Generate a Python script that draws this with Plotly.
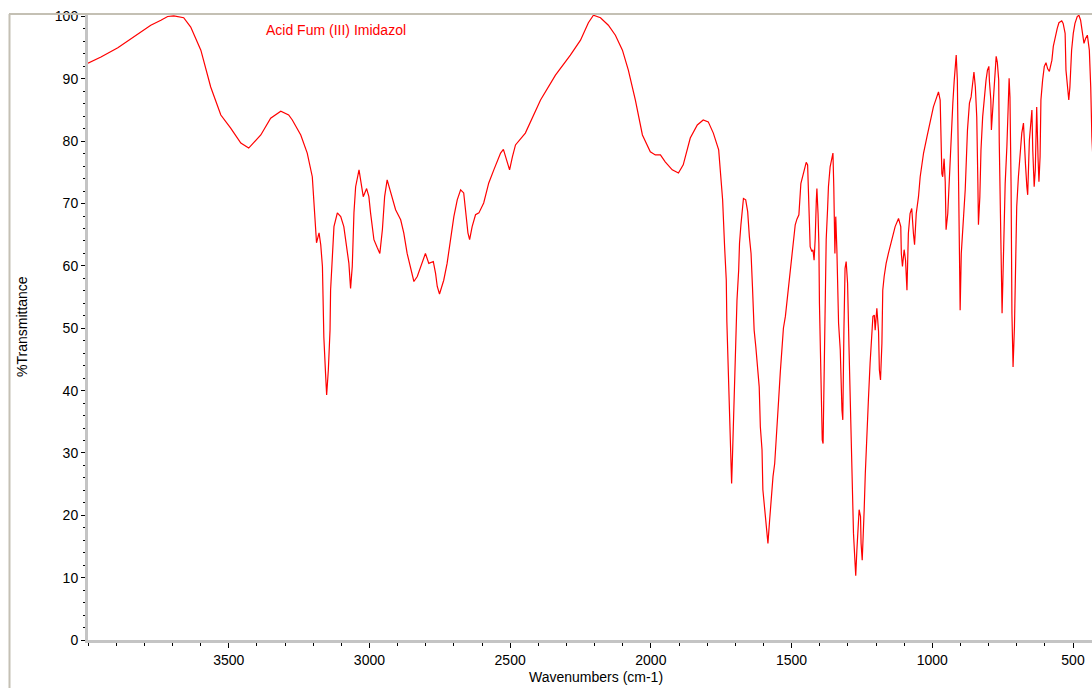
import plotly.graph_objects as go

# Infrared spectrum: wavenumber (cm-1) vs %Transmittance
wavenumber = [
    4000, 3954, 3894, 3837, 3777, 3741, 3717, 3695, 3670, 3660, 3635, 3599, 3564, 3528,
    3493, 3457, 3429, 3386, 3351, 3315, 3287, 3274, 3244, 3221, 3203, 3197, 3191, 3188,
    3179, 3173, 3167, 3162, 3156, 3152, 3146, 3140, 3138, 3132, 3126, 3114, 3102, 3091,
    3079, 3073, 3067, 3061, 3055, 3049, 3037, 3031, 3022, 3010, 3002, 2996, 2984, 2972,
    2963, 2954, 2946, 2937, 2925, 2907, 2889, 2878, 2866, 2848, 2842, 2830, 2812, 2801,
    2789, 2773, 2765, 2759, 2751, 2736, 2724, 2712, 2700, 2688, 2676, 2665, 2656, 2650,
    2644, 2635, 2623, 2611, 2594, 2576, 2558, 2534, 2524, 2513, 2502, 2492, 2481, 2446,
    2392, 2339, 2286, 2250, 2222, 2204, 2179, 2151, 2126, 2101, 2080, 2055, 2030, 2002,
    1984, 1966, 1949, 1924, 1902, 1885, 1860, 1835, 1814, 1796, 1778, 1759, 1753, 1745,
    1738, 1732, 1730, 1724, 1720, 1715, 1713, 1710, 1706, 1703, 1698, 1694, 1688, 1685,
    1680, 1676, 1671, 1663, 1656, 1650, 1644, 1639, 1633, 1627, 1621, 1615, 1611, 1605,
    1602, 1597, 1591, 1588, 1584, 1578, 1572, 1566, 1560, 1554, 1546, 1540, 1534, 1529,
    1522, 1516, 1511, 1505, 1499, 1493, 1487, 1481, 1474, 1467, 1460, 1454, 1448, 1443,
    1438, 1434, 1428, 1424, 1420, 1416, 1412, 1410, 1406, 1403, 1401, 1396, 1391, 1388,
    1384, 1380, 1377, 1372, 1369, 1363, 1357, 1353, 1350, 1346, 1343, 1339, 1333, 1327,
    1321, 1318, 1314, 1310, 1306, 1301, 1296, 1292, 1287, 1284, 1280, 1275, 1272, 1268,
    1264, 1260, 1255, 1253, 1249, 1246, 1242, 1238, 1232, 1227, 1221, 1215, 1211, 1206,
    1203, 1197, 1191, 1188, 1184, 1179, 1176, 1171, 1164, 1156, 1144, 1132, 1120, 1112,
    1110, 1106, 1100, 1095, 1090, 1085, 1079, 1073, 1067, 1063, 1057, 1049, 1043, 1031,
    1019, 1008, 996, 984, 978, 972, 969, 966, 963, 958, 954, 951, 945, 940, 934, 927,
    922, 915, 911, 907, 904, 901, 897, 892, 883, 875, 868, 862, 856, 852, 847, 842,
    838, 836, 831, 827, 821, 815, 809, 804, 799, 797, 792, 790, 785, 780, 773, 769,
    764, 762, 757, 752, 748, 741, 735, 731, 727, 724, 720, 717, 713, 708, 705, 700,
    694, 688, 682, 676, 673, 669, 664, 661, 655, 650, 646, 643, 638, 634, 629, 624,
    621, 617, 614, 608, 602, 596, 590, 584, 578, 575, 570, 563, 556, 550, 540, 535,
    528, 525, 520, 515, 511, 505, 499, 493, 485, 479, 473, 467, 461, 455, 449, 442,
    437, 433, 428,
]

transmittance = [
    92.5, 93.5, 95.0, 96.7, 98.6, 99.4, 100.0, 100.1, 99.9, 99.8, 98.3, 94.6, 88.7, 84.2,
    82.1, 79.7, 78.9, 81.0, 83.7, 84.8, 84.2, 83.4, 81.0, 78.1, 74.3, 70.1, 66.9, 63.7,
    65.3, 63.4, 59.9, 48.6, 42.8, 39.3, 43.3, 49.7, 56.1, 62.0, 66.3, 68.5, 67.9, 66.3,
    62.0, 60.4, 56.4, 59.9, 68.5, 72.7, 75.4, 73.8, 71.1, 72.4, 71.1, 68.5, 64.2, 62.9,
    62.0, 65.8, 71.1, 73.8, 71.9, 69.0, 67.4, 65.3, 62.0, 58.3, 57.5, 58.3, 60.7, 62.0,
    60.4, 60.7, 58.8, 56.7, 55.5, 57.7, 60.4, 64.2, 67.9, 70.6, 72.2, 71.7, 67.9, 65.3,
    64.2, 66.3, 68.2, 68.5, 70.1, 73.3, 75.4, 78.1, 78.7, 77.0, 75.4, 77.5, 79.4, 81.3,
    86.6, 90.6, 93.8, 96.2, 99.0, 100.2, 99.8, 98.6, 97.0, 94.6, 91.4, 86.6, 81.0, 78.3,
    77.8, 77.8, 76.7, 75.4, 74.9, 76.2, 80.5, 82.6, 83.4, 83.1, 81.3, 78.6, 74.9, 70.6,
    63.1, 57.7, 51.1, 41.2, 32.6, 26.7, 25.1, 29.4, 36.4, 43.3, 49.7, 54.5, 59.3, 63.6,
    66.6, 68.7, 70.8, 70.6, 68.7, 64.7, 62.0, 56.7, 49.7, 47.0, 43.8, 40.6, 34.2, 30.5,
    24.1, 21.4, 19.2, 16.6, 15.5, 19.2, 23.5, 26.2, 28.3, 32.1, 38.5, 43.0, 47.0, 50.0,
    51.9, 54.5, 56.7, 59.6, 61.5, 65.0, 66.6, 67.5, 68.2, 73.2, 74.3, 75.4, 76.6, 76.2,
    68.7, 63.1, 62.3, 62.6, 60.9, 64.4, 70.6, 72.4, 68.4, 63.6, 54.0, 41.2, 32.1, 31.5,
    44.4, 56.1, 64.2, 69.2, 72.7, 75.9, 77.5, 78.1, 72.7, 62.0, 67.9, 62.6, 50.8, 46.5,
    36.9, 35.3, 49.7, 59.6, 60.7, 57.2, 47.0, 39.0, 31.0, 23.5, 17.1, 12.8, 10.3, 14.4,
    18.2, 20.9, 19.8, 15.5, 12.8, 15.5, 20.9, 26.7, 34.8, 38.5, 44.4, 48.6, 51.9, 52.1,
    49.7, 53.2, 49.5, 43.3, 41.7, 47.6, 56.1, 58.3, 60.4, 62.0, 64.2, 66.3, 67.6, 66.3,
    62.0, 59.9, 62.6, 60.9, 56.1, 65.2, 68.4, 69.2, 65.2, 63.4, 68.4, 71.1, 74.3, 78.1,
    80.7, 82.9, 85.5, 87.1, 87.9, 86.6, 81.8, 74.8, 74.3, 77.2, 73.5, 65.8, 68.4, 73.8, 81.3, 86.1,
    89.8, 93.8, 89.8, 75.9, 57.2, 52.9, 62.0, 65.8, 72.2, 81.8, 86.1, 87.1, 89.8, 91.1, 88.7, 83.9,
    73.2, 66.6, 71.1, 78.6, 83.9, 87.6, 89.8, 91.4, 92.0, 89.6, 86.6, 81.8, 85.0, 89.8, 93.6, 92.7,
    89.8, 79.7, 67.9, 52.4, 59.9, 73.2, 79.1, 86.6, 90.1, 87.1, 72.7, 52.4, 43.8, 50.3, 60.9, 69.5,
    74.3, 78.6, 81.3, 82.9, 79.1, 76.4, 72.7, 71.4, 80.2, 82.3, 85.0, 78.6, 72.7, 75.4, 85.5, 77.0,
    73.5, 77.5, 86.6, 89.8, 92.0, 92.6, 91.6, 91.2, 92.2, 93.0, 95.2, 96.8, 98.1, 99.0, 99.3, 98.9,
    97.3, 91.4, 88.7, 86.6, 88.7, 94.6, 97.3, 98.9, 100.0, 100.2, 99.4, 97.8, 95.7, 96.5, 97.0, 94.6,
    88.7, 80.7, 76.0,
]

x_tick_values = [3500, 3000, 2500, 2000, 1500, 1000, 500]
y_tick_values = [0, 10, 20, 30, 40, 50, 60, 70, 80, 90, 100]

sample_label = "Acid Fum (III) Imidazol"
x_title = "Wavenumbers (cm-1)"
y_title = "%Transmittance"

FONT = "Liberation Sans, Arial, sans-serif"

# The figure fills the whole window (page margin removed below).
W, H = 1092, 688
PLOT_LEFT, PLOT_TOP, PLOT_BOTTOM = 88, 15, 640   # window pixels
L, T, B, R = PLOT_LEFT, PLOT_TOP, H - PLOT_BOTTOM, 0
pw, ph = W - L - R, H - T - B


def px_to_paper_x(px):
    return (px - L) / pw


def px_to_paper_y(py):
    return (PLOT_BOTTOM - py) / ph


fig = go.Figure()
fig.add_trace(go.Scatter(
    x=wavenumber, y=transmittance, mode="lines",
    line=dict(color="#ff0000", width=1.2),
    hoverinfo="x+y", showlegend=False,
))

axis_common = dict(
    showgrid=False, zeroline=False, showline=True,
    linecolor="#c4c4c4", linewidth=3,
    ticks="outside", tickcolor="#000000", tickwidth=1,
    tickfont=dict(family=FONT, size=14, color="#000000"),
)

fig.update_xaxes(
    range=[4000, 432.5], tickvals=x_tick_values, ticklen=5,
    minor=dict(dtick=100, ticks="outside", ticklen=3, tickcolor="#000000", tickwidth=1),
    **axis_common,
)
fig.update_yaxes(
    range=[0, 100.24], tickvals=y_tick_values, ticklen=4,
    minor=dict(dtick=2, ticks="outside", ticklen=2, tickcolor="#000000", tickwidth=1),
    **axis_common,
)

frame_color = "#c4c0b4"
fig.add_shape(type="line", xref="paper", yref="paper",
              x0=px_to_paper_x(9), x1=px_to_paper_x(W + 5),
              y0=px_to_paper_y(14), y1=px_to_paper_y(14),
              line=dict(color=frame_color, width=2))
fig.add_shape(type="line", xref="paper", yref="paper",
              x0=px_to_paper_x(9.5), x1=px_to_paper_x(9.5),
              y0=px_to_paper_y(14), y1=px_to_paper_y(H + 5),
              line=dict(color=frame_color, width=2))

fig.add_annotation(text=sample_label, xref="paper", yref="paper",
                   x=px_to_paper_x(264), y=px_to_paper_y(29.5),
                   xanchor="left", yanchor="middle", showarrow=False,
                   font=dict(family=FONT, size=14, color="#ff0000"))
fig.add_annotation(text=x_title, xref="paper", yref="paper",
                   x=px_to_paper_x(596), y=px_to_paper_y(677),
                   xanchor="center", yanchor="middle", showarrow=False,
                   font=dict(family=FONT, size=14, color="#000000"))
fig.add_annotation(text=y_title, xref="paper", yref="paper",
                   x=px_to_paper_x(22), y=px_to_paper_y(327),
                   xanchor="center", yanchor="middle", showarrow=False, textangle=-90,
                   font=dict(family=FONT, size=14, color="#000000"))

fig.update_layout(
    width=W, height=H,
    margin=dict(l=L, r=R, t=T, b=B, pad=0),
    paper_bgcolor="#ffffff", plot_bgcolor="#ffffff",
    font=dict(family=FONT, size=14, color="#000000"),
)

fig.write_html(
    "out.html",
    config={"displayModeBar": False},
    post_script="document.body.style.margin='0';document.body.style.overflow='hidden';",
)
